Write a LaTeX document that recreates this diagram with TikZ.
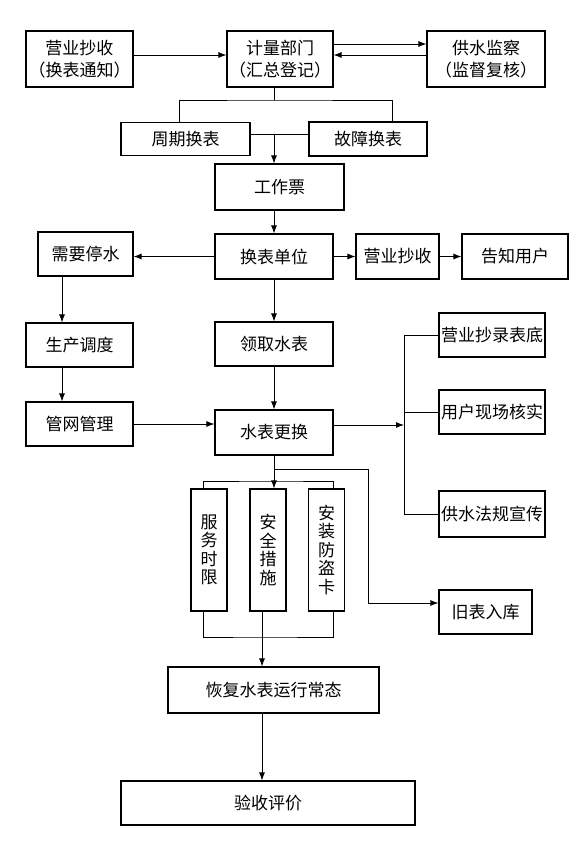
\documentclass[tikz,border=0pt]{standalone}
\usepackage{fontspec}
\newfontfamily\cjk{Noto Sans CJK SC}
\usetikzlibrary{arrows.meta}

\begin{document}
\begin{tikzpicture}[x=1pt,y=-1pt,
        >={Latex[length=8pt,width=6pt]},
        font=\cjk\fontsize{17}{22}\selectfont,
        every path/.style={line width=0.9pt},
        box/.style={draw,line width=1.1pt,inner sep=0pt,align=center},
        tall box/.style={box,minimum width=36pt,minimum height=122pt,
          font=\cjk\fontsize{17}{18.5}\selectfont}]
    \useasboundingbox (0,0) rectangle (588,865);

    \node[box,minimum width=106pt,minimum height=56pt] (jiliang) at (280,59) {计量部门\\（汇总登记）};
    \node[box,minimum width=107pt,minimum height=56pt] (chaoshou) at (79.5,59) {营业抄收\\（换表通知）};
    \node[box,minimum width=118pt,minimum height=56pt] (jiancha) at (486,59) {供水监察\\（监督复核）};
    \node[box,minimum width=129pt,minimum height=33pt] (zhouqi) at (185.5,139) {周期换表};
    \node[box,minimum width=118pt,minimum height=34pt] (guzhang) at (368,139) {故障换表};
    \node[box,minimum width=129pt,minimum height=46pt] (gongzuo) at (279.5,187) {工作票};
    \node[box,minimum width=118pt,minimum height=45pt] (huanbiao) at (274,256.5) {换表单位};
    \node[box,minimum width=95pt,minimum height=44pt] (tingshui) at (85.5,254) {需要停水};
    \node[box,minimum width=83pt,minimum height=45pt] (yingye) at (397.5,256.5) {营业抄收};
    \node[box,minimum width=106pt,minimum height=45pt] (gaozhi) at (515,256.5) {告知用户};
    \node[box,minimum width=107pt,minimum height=44pt] (diaodu) at (79.5,345) {生产调度};
    \node[box,minimum width=118pt,minimum height=44pt] (lingqu) at (274,344) {领取水表};
    \node[box,minimum width=107pt,minimum height=44pt] (guanwang) at (79.5,424) {管网管理};
    \node[box,minimum width=118pt,minimum height=45pt] (genghuan) at (274,432.5) {水表更换};
    \node[box,minimum width=106pt,minimum height=44pt] (biaodi) at (492,335) {营业抄录表底};
    \node[box,minimum width=106pt,minimum height=44pt] (heshi) at (492,412) {用户现场核实};
    \node[box,minimum width=106pt,minimum height=46pt] (xuanchuan) at (492,514) {供水法规宣传};
    \node[tall box] (fuwu) at (209,550) {服\\务\\时\\限};
    \node[tall box] (anquan) at (268,550) {安\\全\\措\\施};
    \node[tall box] (fangdao) at (326.5,550) {安\\装\\防\\盗\\卡};
    \node[box,minimum width=93pt,minimum height=44pt] (jiubiao) at (485.5,612) {旧表入库};
    \node[box,minimum width=211pt,minimum height=46pt] (huifu) at (273.5,690) {恢复水表运行常态};
    \node[box,minimum width=294pt,minimum height=44pt] (yanshou) at (268,803) {验收评价};

    % branch points
    \coordinate (fen) at (274,100);
    \coordinate (he) at (274,134);
    \coordinate (zuo) at (62,300);
    \coordinate (bus) at (404,425);
    \coordinate (cha) at (274,469);
    \coordinate (shang) at (274,481);
    \coordinate (zhuan) at (368,603);
    \coordinate (xia) at (262,637);

    \draw[->] ([yshift=4pt]chaoshou.east) -- ([yshift=4pt]jiliang.west);
    \draw[->] ([yshift=15pt]jiliang.east) -- ([yshift=15pt]jiancha.west);
    \draw[->] ([yshift=4pt]jiancha.west) -- ([yshift=4pt]jiliang.east);
    \draw (jiliang.south -| fen) -- (fen);
    \draw ([xshift=-6.5pt]zhouqi.north) |- (fen) -| ([xshift=24pt]guzhang.north);
    \draw ([yshift=5pt]zhouqi.east) -- ([yshift=5pt]guzhang.west);
    \draw[->] (he) -- (gongzuo.north -| he);
    \draw[->] (gongzuo.south -| huanbiao) -- (huanbiao.north);
    \draw[->] (huanbiao.west) -- (huanbiao.west -| tingshui.east);
    \draw[->] (huanbiao) -- (yingye);
    \draw[->] (yingye) -- (gaozhi);
    \draw[->] (tingshui.south -| zuo) -- (diaodu.north -| zuo);
    \draw[->] (diaodu.south -| zuo) -- (guanwang.north -| zuo);
    \draw[->] (huanbiao) -- (lingqu);
    \draw[->] (lingqu) -- (genghuan);
    \draw[->] (guanwang.east) -- (guanwang.east -| genghuan.west);
    \draw[->] (genghuan.east |- bus) -- (bus);
    \draw (biaodi.west) -- (biaodi.west -| bus) -- (xuanchuan.west -| bus) -- (xuanchuan.west);
    \draw (heshi.west) -- (heshi.west -| bus);
    \draw[->] (genghuan.south) -- (genghuan.south |- anquan.north);
    \draw ([xshift=-6pt]fuwu.north) |- (shang) -| ([xshift=6.5pt]fangdao.north);
    \draw[->] (cha) -| (zhuan) -- (zhuan -| jiubiao.west);
    \draw ([xshift=-6pt]fuwu.south) |- (xia) -| ([xshift=6.5pt]fangdao.south);
    \draw[->] (anquan.south -| xia) -- (huifu.north -| xia);
    \draw[->] (huifu.south -| xia) -- (yanshou.north -| xia);
\end{tikzpicture}
\end{document}
